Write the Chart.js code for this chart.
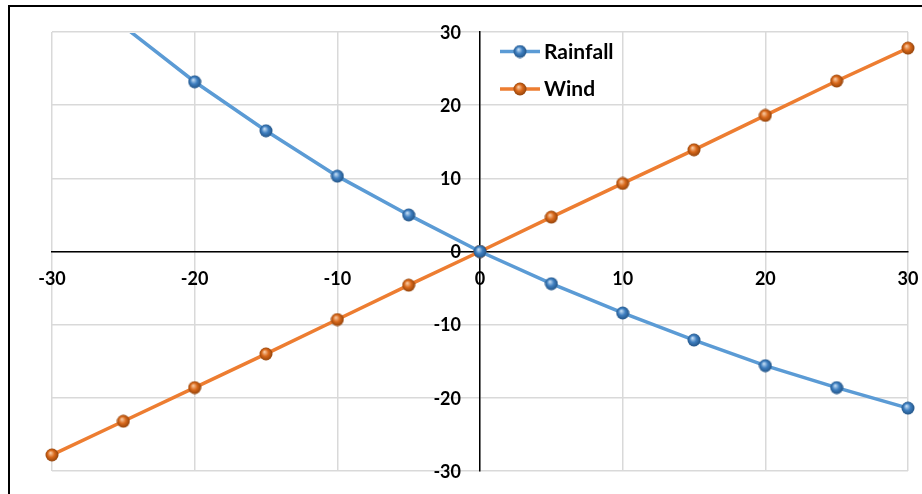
<!DOCTYPE html>
<html>
<head>
<meta charset="utf-8">
<script src="https://cdn.jsdelivr.net/npm/chart.js@4"></script>
<style>
  body { margin: 0; background: #fff; }
  #wrap { position: relative; width: 922px; height: 494px; }
  #frame { position: absolute; left: 8px; top: 5px; right: 0; bottom: 0; border-top: 2px solid #000; border-left: 2px solid #000; pointer-events: none; }
</style>
</head>
<body>
<div id="wrap">
  <canvas id="myScatterChart" width="922" height="494"></canvas>
  <div id="frame"></div>
</div>
<script>
// data
let xValues = [-30, -25, -20, -15, -10, -5, 0, 5, 10, 15, 20, 25, 30]
let rainfall = [38.5, 30.8, 23.2, 16.5, 10.3, 5.0, 0, -4.4, -8.4, -12.1, -15.6, -18.6, -21.4]
let wind = [-27.8, -23.2, -18.6, -14.0, -9.3, -4.6, 0, 4.7, 9.3, 13.9, 18.6, 23.3, 27.8]
let seriesNames = ["Rainfall", "Wind"]
let axisMin = -30
let axisMax = 30
let tickStep = 10

let fontFamily = "Lato, 'Open Sans', sans-serif"
let tickFont = "bold 18px " + fontFamily

// little shaded ball for the markers
function makeBall(light, mid, dark) {
    let c = document.createElement("canvas")
    c.width = 14
    c.height = 14
    let g = c.getContext("2d")
    let grad = g.createRadialGradient(5.5, 5, 0.5, 7, 7, 7)
    grad.addColorStop(0, light)
    grad.addColorStop(0.45, mid)
    grad.addColorStop(1, dark)
    g.fillStyle = grad
    g.beginPath()
    g.arc(7, 7, 6.5, 0, Math.PI * 2)
    g.fill()
    return c
}

let blueBall = makeBall("#bcd8f2", "#3f7fc0", "#1f4f80")
let orangeBall = makeBall("#f7c49a", "#d9691c", "#8a3e08")

function toPoints(ys) {
    return xValues.map(function (x, i) { return { x: x, y: ys[i] } })
}

// y labels sit left of the centred y axis (chart.js ignores padding there)
let yAxisLabels = {
    id: "yAxisLabels",
    beforeDatasetsDraw(chart) {
        let ctx = chart.ctx
        let yScale = chart.scales.y
        let axisX = chart.scales.x.getPixelForValue(0)
        ctx.save()
        ctx.fillStyle = "#000"
        ctx.font = tickFont
        ctx.textAlign = "right"
        ctx.textBaseline = "middle"
        yScale.ticks.forEach(function (t) {
            ctx.fillText(String(t.value), axisX - 19, yScale.getPixelForValue(t.value) + 1)
        })
        ctx.restore()
    }
}

// legend drawn inside the plot, right of the y axis
let innerLegend = {
    id: "innerLegend",
    afterDatasetsDraw(chart) {
        let ctx = chart.ctx
        let x0 = chart.scales.x.getPixelForValue(0) + 20
        let rows = [51.5, 89]
        ctx.save()
        chart.data.datasets.forEach(function (ds, i) {
            let y = rows[i]
            ctx.strokeStyle = ds.borderColor
            ctx.lineWidth = 3.5
            ctx.beginPath()
            ctx.moveTo(x0, y)
            ctx.lineTo(x0 + 40, y)
            ctx.stroke()
            ctx.drawImage(ds.pointStyle, x0 + 20 - 7, y - 7)
            ctx.fillStyle = "#000"
            ctx.font = "bold 21px " + fontFamily
            ctx.textBaseline = "middle"
            ctx.textAlign = "left"
            ctx.fillText(ds.label, x0 + 44, y + 0.5)
        })
        ctx.restore()
    }
}

let ctx = document.getElementById("myScatterChart").getContext("2d")
let chart = new Chart(ctx, {
    type: "scatter",
    data: {
        datasets: [{
            label: seriesNames[0],
            data: toPoints(rainfall),
            showLine: true,
            borderColor: "#5b9bd5",
            borderWidth: 3.5,
            pointStyle: blueBall,
            pointRadius: 7,
            clip: { left: 10, top: -1, right: 10, bottom: 10 }
        }, {
            label: seriesNames[1],
            data: toPoints(wind),
            showLine: true,
            borderColor: "#ed7d31",
            borderWidth: 3.5,
            pointStyle: orangeBall,
            pointRadius: 7,
            clip: { left: 10, top: -1, right: 10, bottom: 10 }
        }]
    },
    options: {
        responsive: false,
        animation: false,
        layout: { padding: { left: 52, right: 14, top: 32, bottom: 23 } },
        plugins: {
            legend: { display: false },
            tooltip: { enabled: false }
        },
        scales: {
            x: {
                type: "linear",
                min: axisMin,
                max: axisMax,
                position: { y: 0 },
                afterFit: function (scale) { scale.paddingLeft = 0; scale.paddingRight = 0 },
                grid: { color: "#d9d9d9", lineWidth: 1.5, drawTicks: false },
                border: { color: "#000", width: 1.5 },
                ticks: {
                    stepSize: tickStep,
                    padding: 17,
                    color: "#000",
                    maxRotation: 0,
                    autoSkip: false,
                    font: { family: fontFamily, size: 18, weight: "bold" }
                }
            },
            y: {
                type: "linear",
                min: axisMin,
                max: axisMax,
                position: { x: 0 },
                afterFit: function (scale) { scale.paddingTop = 0; scale.paddingBottom = 0 },
                grid: { color: "#d9d9d9", lineWidth: 1.5, drawTicks: false },
                border: { color: "#000", width: 1.5 },
                ticks: { stepSize: tickStep, display: false }
            }
        }
    },
    plugins: [yAxisLabels, innerLegend]
})
</script>
</body>
</html>
